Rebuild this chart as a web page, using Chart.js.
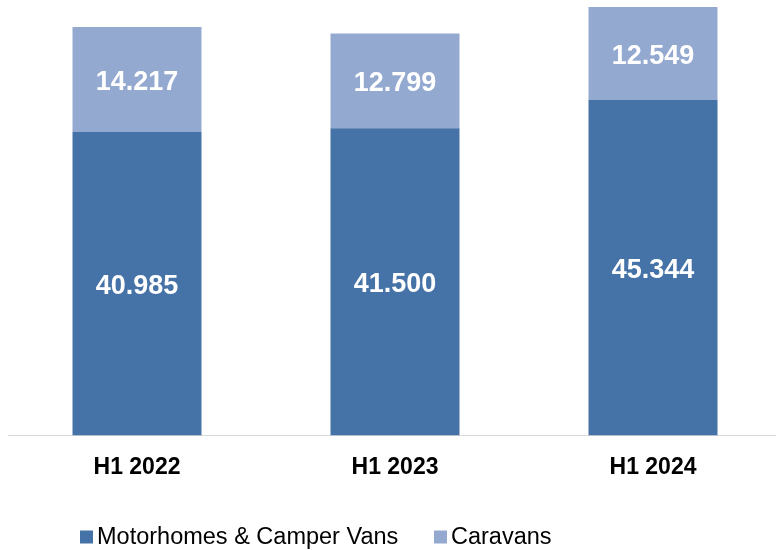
<!DOCTYPE html>
<html>
<head>
<meta charset="utf-8">
<script src="https://cdn.jsdelivr.net/npm/chart.js@4/dist/chart.umd.min.js"></script>
<style>
  body { margin: 0; background: #fff; overflow: hidden; }
  canvas { display: block; }
</style>
</head>
<body>
<canvas id="regChart" width="782" height="550"></canvas>
<script>
const categories = ['H1 2022', 'H1 2023', 'H1 2024'];
const motorhomes = [40985, 41500, 45344];
const caravans = [14217, 12799, 12549];
const seriesNames = ['Motorhomes & Camper Vans', 'Caravans'];
const seriesColors = ['#4673a7', '#94a9d0'];

// 40985 -> "40.985"
function fmt(v) {
    return String(v).replace(/\B(?=(\d{3})+(?!\d))/g, '.');
}

const totals = categories.map((c, i) => motorhomes[i] + caravans[i]);

// white value labels in the middle of each segment
const barLabels = {
    id: 'barLabels',
    afterDatasetsDraw(chart) {
        const ctx = chart.ctx;
        ctx.save();
        ctx.fillStyle = '#ffffff';
        ctx.font = 'bold 27px "Liberation Sans", Arial, sans-serif';
        ctx.textAlign = 'center';
        ctx.textBaseline = 'middle';
        chart.data.datasets.forEach((ds, di) => {
            chart.getDatasetMeta(di).data.forEach((bar, i) => {
                ctx.fillText(fmt(ds.data[i]), bar.x, (bar.y + bar.base) / 2 + 3);
            });
        });
        ctx.restore();
    }
};

// legend row under the axis
const bottomLegend = {
    id: 'bottomLegend',
    afterDraw(chart) {
        const ctx = chart.ctx;
        const xs = [80, 434];
        const y = 537;
        ctx.save();
        ctx.font = '23.5px "Liberation Sans", Arial, sans-serif';
        ctx.textBaseline = 'middle';
        ctx.textAlign = 'left';
        chart.data.datasets.forEach((ds, i) => {
            ctx.fillStyle = ds.backgroundColor;
            ctx.fillRect(xs[i], y - 6.5, 13, 13);
            ctx.fillStyle = '#000000';
            ctx.fillText(ds.label, xs[i] + 17, y + 1);
        });
        ctx.restore();
    }
};

const ctx = document.getElementById('regChart').getContext('2d');
const regChart = new Chart(ctx, {
    type: 'bar',
    data: {
        labels: categories,
        datasets: [{
            label: seriesNames[0],
            data: motorhomes,
            backgroundColor: seriesColors[0],
            borderWidth: 0
        }, {
            label: seriesNames[1],
            data: caravans,
            backgroundColor: seriesColors[1],
            borderWidth: 0
        }]
    },
    options: {
        responsive: false,
        animation: false,
        layout: {
            padding: { left: 8, right: 0, top: 7, bottom: 51 }
        },
        datasets: {
            bar: { barPercentage: 0.5, categoryPercentage: 1 }
        },
        plugins: {
            legend: { display: false },
            tooltip: { enabled: false }
        },
        scales: {
            x: {
                stacked: true,
                grid: { display: false, drawTicks: false },
                border: { display: true, color: '#d9d9d9', width: 1 },
                ticks: {
                    color: '#000000',
                    padding: 18,
                    font: { family: '"Liberation Sans", Arial, sans-serif', size: 23, weight: 'bold' }
                }
            },
            y: {
                stacked: true,
                display: false,
                min: 0,
                max: Math.max(...totals)
            }
        }
    },
    plugins: [barLabels, bottomLegend]
});
</script>
</body>
</html>
